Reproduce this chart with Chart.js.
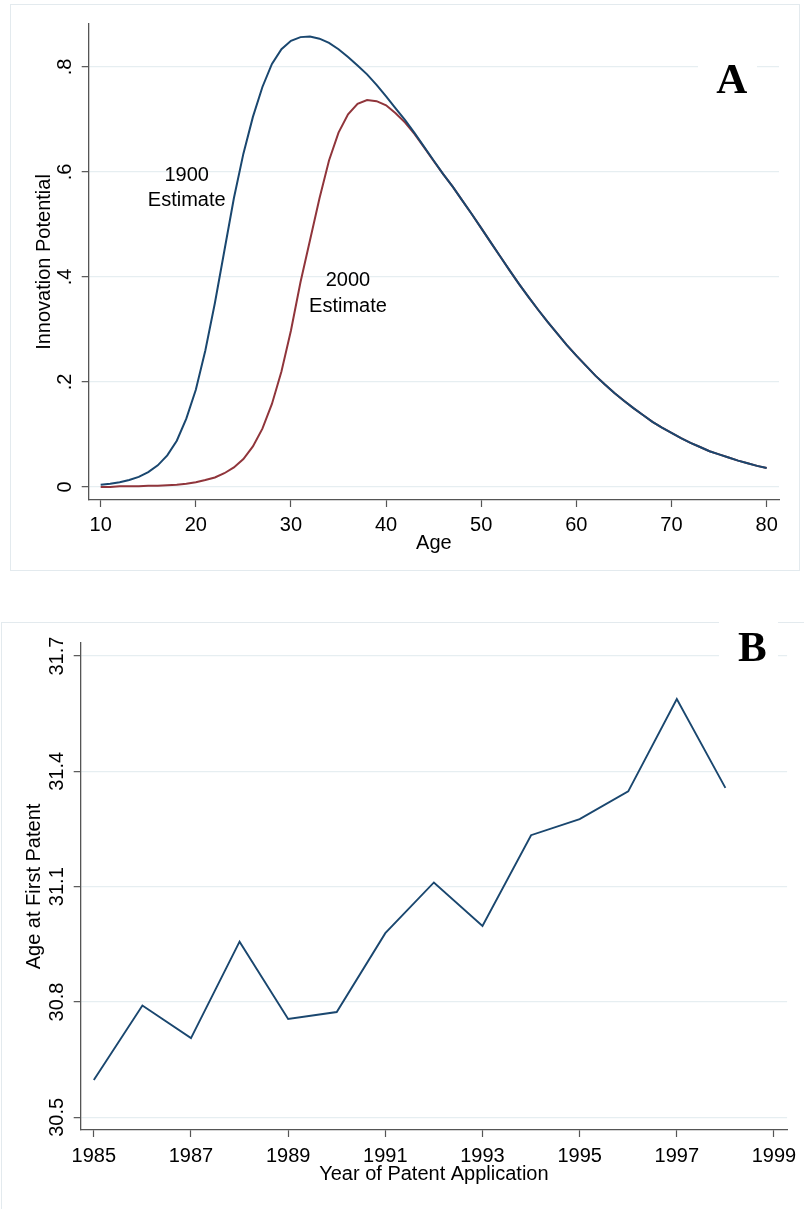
<!DOCTYPE html>
<html><head><meta charset="utf-8">
<script src="https://cdn.jsdelivr.net/npm/chart.js@4.4.1/dist/chart.umd.min.js"></script>
<style>
html,body{margin:0;padding:0;background:#fff;}
#wrap{position:relative;width:804px;height:1209px;overflow:hidden;background:#fff;}
canvas{position:absolute;left:0;}
#ca{top:0;} #cb{top:590px;}
</style></head><body>
<div id="wrap"><canvas id="ca" width="804" height="590"></canvas><canvas id="cb" width="804" height="619"></canvas></div>
<script>
// ---------- Panel A data ----------
const ages = [10,11,12,13,14,15,16,17,18,19,20,21,22,23,24,25,26,27,28,29,30,31,32,33,34,35,36,37,38,39,40,41,42,43,44,45,46,47,48,49,50,51,52,53,54,55,56,57,58,59,60,61,62,63,64,65,66,67,68,69,70,71,72,73,74,75,76,77,78,79,80];
const estimate1900 = [0.004,0.006,0.009,0.013,0.019,0.028,0.041,0.060,0.088,0.130,0.185,0.260,0.350,0.450,0.550,0.635,0.705,0.762,0.806,0.834,0.850,0.857,0.858,0.854,0.846,0.834,0.819,0.803,0.786,0.766,0.744,0.721,0.699,0.674,0.648,0.622,0.596,0.572,0.546,0.520,0.493,0.466,0.439,0.412,0.386,0.361,0.337,0.314,0.292,0.270,0.250,0.231,0.212,0.195,0.179,0.164,0.150,0.137,0.124,0.113,0.103,0.093,0.084,0.076,0.068,0.062,0.056,0.050,0.045,0.040,0.036];
const estimate2000 = [0.000,0.000,0.001,0.001,0.001,0.002,0.002,0.003,0.004,0.006,0.009,0.013,0.018,0.026,0.037,0.053,0.077,0.111,0.158,0.220,0.298,0.390,0.470,0.550,0.622,0.675,0.710,0.730,0.737,0.735,0.727,0.712,0.694,0.672,0.647,0.621,0.596,0.572,0.546,0.520,0.493,0.466,0.439,0.412,0.386,0.361,0.337,0.314,0.292,0.270,0.250,0.231,0.212,0.195,0.179,0.164,0.150,0.137,0.124,0.113,0.103,0.093,0.084,0.076,0.068,0.062,0.056,0.050,0.045,0.040,0.036];
const ageTicks = [10,20,30,40,50,60,70,80];
const potentialTicks = [0,0.2,0.4,0.6,0.8];
const potentialTickLabels = ['0','.2','.4','.6','.8'];

// ---------- Panel B data ----------
const years = [1985,1986,1987,1988,1989,1990,1991,1992,1993,1994,1995,1996,1997,1998];
const ageAtFirstPatent = [30.597,30.791,30.706,30.957,30.756,30.774,30.979,31.111,30.998,31.234,31.276,31.348,31.588,31.357];
const yearTicks = [1985,1987,1989,1991,1993,1995,1997,1999];
const firstPatentTicks = [30.5,30.8,31.1,31.4,31.7];
const firstPatentTickLabels = ['30.5','30.8','31.1','31.4','31.7'];

const FONT = '"Liberation Sans", Arial, Helvetica, sans-serif';
const FS = 20;
Chart.defaults.font.family = FONT;
Chart.defaults.font.size = FS;
Chart.defaults.color = '#000';

const NAVY = '#1a476f', MAROON = '#90353b';
const GRID = '#e6eef1', AXIS = '#555555', FRAME = '#e3eaee';

function decor(o){
  return {
    id:'decor',
    beforeDraw(chart){
      const c = chart.ctx; c.save();
      c.fillStyle = '#fff'; c.fillRect(0,0,chart.width,chart.height);
      c.strokeStyle = FRAME; c.lineWidth = 1;
      c.strokeRect(o.frame[0],o.frame[1],o.frame[2],o.frame[3]);
      c.restore();
    },
    afterDraw(chart){
      const c = chart.ctx; c.save();
      const b = o.badge;
      c.fillStyle = '#fff'; c.fillRect(b.box[0],b.box[1],b.box[2],b.box[3]);
      c.fillStyle = '#000';
      c.font = 'bold 43px "Liberation Serif", "Times New Roman", serif';
      c.textAlign = 'center'; c.textBaseline = 'alphabetic';
      c.fillText(b.text, b.x, b.y);
      if (o.labels) {
        c.font = FS + 'px ' + FONT;
        const xs = chart.scales.x, ys = chart.scales.y;
        o.labels.forEach(l => {
          const px = xs.getPixelForValue(l.at[0]);
          const py = ys.getPixelForValue(l.at[1]);
          c.fillText(l.lines[0], px, py - l.gap/2);
          c.fillText(l.lines[1], px, py + l.gap/2);
        });
      }
      c.restore();
    }
  };
}

function yAxis(min,max,ticks,labels,title,width,tickPad,titlePad){
  return {
    type:'linear', position:'left', min:min, max:max,
    afterBuildTicks: s => { s.ticks = ticks.map(v => ({value:v})); },
    afterFit: s => { s.width = width; },
    ticks:{ autoSkip:false, minRotation:90, maxRotation:90, crossAlign:'center', padding:tickPad, color:'#000',
            callback:(v,i)=>labels[i] },
    grid:{ color:GRID, lineWidth:1.3, drawTicks:true, tickLength:7, tickColor:AXIS, tickWidth:1.2 },
    border:{ display:true, color:AXIS, width:1.3 },
    title:{ display:true, text:title, color:'#000', padding:{top:titlePad,bottom:0} }
  };
}
function xAxis(min,max,ticks,title,height,tickPad,titlePad){
  return {
    type:'linear', position:'bottom', min:min, max:max,
    afterBuildTicks: s => { s.ticks = ticks.map(v => ({value:v})); },
    afterFit: s => { s.height = height; },
    ticks:{ autoSkip:false, minRotation:0, maxRotation:0, padding:tickPad, color:'#000', callback:v=>String(v) },
    grid:{ drawOnChartArea:false, drawTicks:true, tickLength:7, tickColor:AXIS, tickWidth:1.2 },
    border:{ display:true, color:AXIS, width:1.3 },
    title:{ display:true, text:title, color:'#000', padding:{top:0,bottom:titlePad} }
  };
}

new Chart(document.getElementById('ca'), {
  type:'line',
  data:{ datasets:[
    { label:'1900 Estimate', data: ages.map((a,i)=>({x:a,y:estimate1900[i]})), borderColor:NAVY, borderWidth:2, pointRadius:0, tension:0, fill:false },
    { label:'2000 Estimate', data: ages.map((a,i)=>({x:a,y:estimate2000[i]})), borderColor:MAROON, borderWidth:2, pointRadius:0, tension:0, fill:false }
  ]},
  options:{
    responsive:false, animation:false, devicePixelRatio:1,
    layout:{ padding:{ top:24, right:25, bottom:0, left:0 } },
    plugins:{ legend:{display:false}, tooltip:{enabled:false} },
    scales:{
      x: xAxis(8.74, 81.3, ageTicks, 'Age', 90, 6.5, 35),
      y: yAxis(-0.025, 0.882, potentialTicks, potentialTickLabels, 'Innovation Potential', 88.7, 8.3, 32.5)
    }
  },
  plugins:[ decor({ frame:[10.5,4.5,789,566],
    badge:{ text:'A', x:731.7, y:93.3, box:[698,47,59,62] },
    labels:[ { lines:['1900','Estimate'], at:[19.04,0.5593], gap:25.5 },
             { lines:['2000','Estimate'], at:[35.99,0.3587], gap:26 } ] }) ]
});

new Chart(document.getElementById('cb'), {
  type:'line',
  data:{ datasets:[
    { label:'Age at First Patent', data: years.map((yr,i)=>({x:yr,y:ageAtFirstPatent[i]})), borderColor:NAVY, borderWidth:1.9, pointRadius:0, tension:0, fill:false }
  ]},
  options:{
    responsive:false, animation:false, devicePixelRatio:1,
    layout:{ padding:{ top:53, right:15.3, bottom:0, left:0 } },
    plugins:{ legend:{display:false}, tooltip:{enabled:false} },
    scales:{
      x: xAxis(1984.73, 1999.27, yearTicks, 'Year of Patent Application', 79, 7.5, 22.5),
      y: yAxis(30.467, 31.734, firstPatentTicks, firstPatentTickLabels, 'Age at First Patent', 80.7, -3.3, 22.5)
    }
  },
  plugins:[ decor({ frame:[1.5,32.5,830,700],
    badge:{ text:'B', x:752.3, y:70.7, box:[719,24,59,62] } }) ]
});
</script>
</body></html>
